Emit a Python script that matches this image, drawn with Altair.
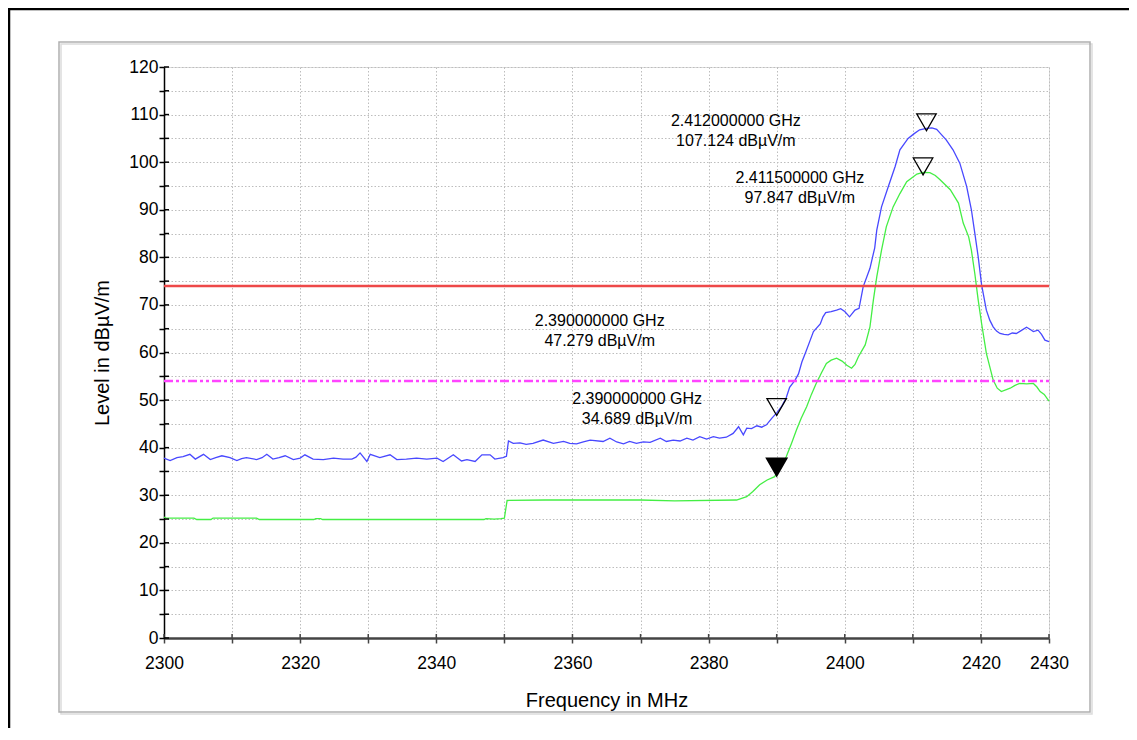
import altair as alt
import pandas as pd

# ---------------- data ----------------
blue_f = [2300.0, 2300.9, 2301.9, 2302.8, 2303.8, 2304.6, 2305.8, 2306.8, 2307.6, 2308.5,
          2309.7, 2310.7, 2311.4, 2312.1, 2313.6, 2314.4, 2315.1, 2316.0, 2316.9, 2317.8,
          2319.0, 2320.0, 2320.7, 2321.9, 2323.4, 2324.9, 2326.3, 2327.6, 2328.2, 2328.8,
          2329.8, 2330.3, 2331.7, 2333.2, 2334.2, 2335.6, 2337.1, 2338.6, 2340.1, 2341.0,
          2342.5, 2343.7, 2344.5, 2345.7, 2346.7, 2347.9, 2348.6, 2349.8, 2350.3, 2350.6,
          2351.3, 2352.3, 2353.2, 2354.2, 2355.7, 2357.2, 2358.7, 2359.6, 2360.6, 2361.6,
          2362.6, 2364.5, 2365.5, 2366.5, 2367.5, 2368.4, 2369.4, 2370.4, 2371.4, 2372.9,
          2373.8, 2374.8, 2375.8, 2376.8, 2377.7, 2378.7, 2379.7, 2380.7, 2381.6, 2382.6,
          2383.6, 2384.4, 2385.1, 2385.6, 2386.3, 2387.1, 2387.8, 2388.5, 2389.3, 2390.0,
          2390.7, 2391.4, 2391.9, 2392.7, 2393.2, 2393.7, 2394.3, 2394.9, 2395.4, 2396.4,
          2396.8, 2397.2, 2398.0, 2398.8, 2399.4, 2400.0, 2400.7, 2401.5, 2402.1, 2402.7,
          2403.7, 2404.4, 2404.7, 2405.4, 2406.4, 2407.4, 2408.1, 2409.3, 2410.2, 2411.0,
          2412.0, 2412.8, 2413.5, 2414.2, 2414.9, 2415.9, 2416.9, 2417.9, 2418.6, 2419.1,
          2419.6, 2420.1, 2420.8, 2421.3, 2421.8, 2422.3, 2422.8, 2423.4, 2424.0, 2424.6,
          2425.2, 2425.9, 2426.7, 2427.2, 2427.7, 2428.4, 2428.9, 2429.4, 2430.0]
blue_l = [37.8, 37.3, 37.9, 38.1, 38.6, 37.6, 38.6, 37.5, 37.9, 38.3,
          37.9, 37.3, 37.7, 37.9, 37.5, 37.9, 38.6, 37.6, 37.9, 38.3,
          37.5, 37.8, 38.5, 37.6, 37.5, 37.8, 37.6, 37.6, 38.0, 38.9,
          37.1, 38.6, 37.9, 38.5, 37.5, 37.6, 37.8, 37.6, 37.8, 37.1,
          38.5, 37.2, 37.5, 37.1, 38.5, 38.5, 37.6, 37.9, 38.2, 41.4,
          40.9, 41.0, 40.7, 40.9, 41.6, 40.9, 41.3, 40.9, 40.8, 41.2,
          41.6, 41.3, 42.0, 41.2, 40.8, 41.3, 40.9, 41.2, 41.1, 42.0,
          41.3, 41.6, 41.4, 42.0, 41.6, 42.3, 41.8, 42.3, 42.0, 42.2,
          43.0, 44.4, 42.7, 44.1, 44.0, 44.6, 44.3, 44.8, 46.2, 47.3,
          48.6, 50.5, 52.7, 54.2, 55.5, 58.0, 60.2, 62.5, 64.4, 66.0,
          67.5, 68.4, 68.6, 68.9, 69.2, 68.6, 67.5, 68.9, 69.3, 73.8,
          77.7, 82.0, 85.7, 90.6, 94.9, 99.1, 102.6, 105.0, 106.0, 106.8,
          107.1, 107.2, 106.9, 105.8, 104.7, 102.6, 99.8, 94.9, 90.0, 85.1,
          80.1, 74.2, 68.9, 66.8, 65.4, 64.5, 64.0, 63.8, 63.7, 64.1,
          64.0, 64.6, 65.3, 64.9, 64.4, 64.7, 63.8, 62.6, 62.3]

green_f = [2300.0, 2300.3, 2304.4, 2304.8, 2306.9, 2307.2, 2313.6, 2314.0, 2322.0, 2322.3,
           2323.0, 2323.3, 2347.0, 2347.3, 2348.5, 2349.5, 2350.0, 2350.4, 2356.0, 2370.0,
           2375.0, 2384.1, 2385.6, 2386.5, 2387.5, 2388.6, 2389.7, 2390.0, 2390.7, 2391.4,
           2392.2, 2392.9, 2393.6, 2394.4, 2395.1, 2395.8, 2396.6, 2397.3, 2398.0, 2398.8,
           2399.6, 2400.3, 2401.0, 2401.5, 2402.0, 2403.0, 2403.7, 2404.2, 2404.7, 2405.4,
           2406.1, 2407.1, 2408.1, 2409.1, 2410.6, 2411.5, 2412.5, 2413.3, 2414.0, 2415.5,
           2416.7, 2417.4, 2418.2, 2418.6, 2419.1, 2419.6, 2420.1, 2420.8, 2421.8, 2422.4,
           2423.0, 2424.3, 2425.0, 2425.7, 2426.7, 2427.7, 2428.2, 2428.7, 2429.3, 2430.0]
green_l = [25.4, 25.2, 25.2, 24.9, 24.9, 25.2, 25.2, 24.9, 24.9, 25.1,
           25.1, 24.9, 24.9, 25.1, 25.0, 25.1, 25.2, 28.9, 29.0, 29.0,
           28.8, 29.0, 29.7, 30.8, 32.2, 33.2, 33.9, 34.7, 36.2, 38.1,
           41.0, 43.7, 46.2, 48.6, 51.2, 53.5, 55.8, 57.7, 58.4, 58.8,
           58.2, 57.3, 56.7, 57.5, 59.1, 61.6, 65.4, 71.0, 75.9, 81.5,
           86.4, 90.6, 93.4, 95.9, 97.5, 97.85, 97.8, 97.2, 96.3, 94.2,
           91.4, 87.2, 84.3, 81.5, 76.6, 71.0, 66.1, 59.8, 54.2, 52.5,
           51.8, 52.5, 53.1, 53.5, 53.4, 53.5, 52.8, 51.8, 51.2, 49.8]

marker_f = [2412.0, 2411.5, 2390.0, 2390.0]
marker_l = [107.124, 97.847, 47.279, 34.689]
marker_filled = [False, False, False, True]

label_text = ["2.412000000 GHz\n107.124 dBµV/m",
              "2.411500000 GHz\n97.847 dBµV/m",
              "2.390000000 GHz\n47.279 dBµV/m",
              "2.390000000 GHz\n34.689 dBµV/m"]
label_f = [2384.0, 2393.4, 2364.0, 2369.5]
label_l = [107.5, 95.7, 65.6, 49.2]

limit_peak = [74]
limit_avg = [54]

x_ticks = [2300, 2310, 2320, 2330, 2340, 2350, 2360, 2370, 2380, 2390, 2400, 2410, 2420, 2430]
x_tick_labels = [2300, 2320, 2340, 2360, 2380, 2400, 2420, 2430]
y_ticks = [0, 5, 10, 15, 20, 25, 30, 35, 40, 45, 50, 55, 60, 65, 70, 75, 80, 85, 90, 95,
           100, 105, 110, 115, 120]
y_tick_labels = [0, 10, 20, 30, 40, 50, 60, 70, 80, 90, 100, 110, 120]

# ---------------- tables ----------------
blue = pd.DataFrame({"f": blue_f, "L": blue_l})
green = pd.DataFrame({"f": green_f, "L": green_l})
markers = pd.DataFrame({"f": marker_f, "L": marker_l, "filled": marker_filled})
labels = pd.DataFrame({"f": label_f, "L": label_l, "t": label_text})
lim_peak = pd.DataFrame({"L": limit_peak})
lim_avg = pd.DataFrame({"L": limit_avg})
xt = pd.DataFrame({"f": x_ticks})
yt = pd.DataFrame({"L": y_ticks})
one = pd.DataFrame({"a": [0]})

W, H = 885, 571
FONT = "Liberation Sans"

x_lab_expr = "indexof([%s], datum.value) >= 0 ? datum.label : ''" % ",".join(str(v) for v in x_tick_labels)
y_lab_expr = "indexof([%s], datum.value) >= 0 ? datum.label : ''" % ",".join(str(v) for v in y_tick_labels)

X = alt.X("f:Q",
          scale=alt.Scale(domain=[2300, 2430], nice=False, zero=False),
          axis=alt.Axis(values=x_ticks, format="d", labelExpr=x_lab_expr, labelOverlap=False,
                        labelFlush=False, grid=True, gridDash=[1.5, 2], gridColor="#bdbdbd",
                        gridWidth=1, domainColor="#444444", domainWidth=2.5,
                        tickColor="#444444", tickWidth=1.5, tickSize=5,
                        labelFontSize=17.5, labelColor="black", labelPadding=11,
                        title="Frequency in MHz", titleFontSize=20, titleFontWeight="normal",
                        titleColor="black", titleY=68, titleBaseline="alphabetic"))
Y = alt.Y("L:Q",
          scale=alt.Scale(domain=[0, 120], nice=False, zero=False),
          axis=alt.Axis(values=y_ticks, format="d", labelExpr=y_lab_expr, labelOverlap=False,
                        labelFlush=False, grid=True, gridDash=[1.5, 2], gridColor="#bdbdbd",
                        gridWidth=1, domainColor="black", domainWidth=1.5,
                        tickColor="black", tickWidth=1.5, tickSize=5,
                        labelFontSize=17.5, labelColor="black", labelPadding=1,
                        labelBaseline="middle",
                        title="Level in dBµV/m", titleFontSize=20, titleFontWeight="normal",
                        titleColor="black", titleAngle=-90, titleX=-56, titleY=H / 2,
                        titleBaseline="alphabetic", titleAlign="center"))

# frames: outer black frame (only left and top edges are inside the picture)
outer_top = alt.Chart(one).mark_rule(color="black", strokeWidth=2.5).encode(
    x=alt.value(-156), x2=alt.value(1000), y=alt.value(-58))
outer_left = alt.Chart(one).mark_rule(color="black", strokeWidth=2.5).encode(
    x=alt.value(-155), y=alt.value(-59), y2=alt.value(700))
inner = alt.Chart(one).mark_rect(fill="transparent", stroke="#b0b0b0", strokeWidth=1.5).encode(
    x=alt.value(-105), x2=alt.value(926), y=alt.value(-25), y2=alt.value(645))
shadow = alt.Chart(one).mark_rect(fill="transparent", stroke="#dcdcdc", strokeWidth=1.5).encode(
    x=alt.value(-103), x2=alt.value(928), y=alt.value(-23), y2=alt.value(647))

blue_line = alt.Chart(blue).mark_line(color="#4848ff", strokeWidth=1.3).encode(x=X, y=Y)
green_line = alt.Chart(green).mark_line(color="#44ee44", strokeWidth=1.3).encode(x=X, y=Y)

red_rule = alt.Chart(lim_peak).mark_rule(color="#ee4848", strokeWidth=2.5).encode(
    y=Y, x=alt.value(0), x2=alt.value(W))
mag_rule = alt.Chart(lim_avg).mark_rule(color="#ff44ff", strokeWidth=2.5,
                                        strokeDash=[9, 3, 3, 3, 3, 3]).encode(
    y=Y, x=alt.value(0), x2=alt.value(W))

# inward halves of the crossing ticks
x_in = alt.Chart(xt).mark_rule(color="#444444", strokeWidth=1.5).encode(
    x=X, y=alt.value(H), y2=alt.value(H - 4))
y_in = alt.Chart(yt).mark_rule(color="black", strokeWidth=1.5).encode(
    y=Y, x=alt.value(0), x2=alt.value(5))

open_m = alt.Chart(markers).transform_filter("!datum.filled").mark_point(
    shape="triangle-down", size=380, filled=False, stroke="black", strokeWidth=1.3,
    opacity=1, yOffset=-6).encode(x=X, y=Y)
fill_m = alt.Chart(markers).transform_filter("datum.filled").mark_point(
    shape="triangle-down", size=380, filled=True, fill="black", stroke="black",
    opacity=1, yOffset=-6).encode(x=X, y=Y)

texts = alt.Chart(labels).mark_text(lineBreak="\n", align="center", baseline="alphabetic",
                                    fontSize=16, lineHeight=20, color="black", font=FONT).encode(
    x=X, y=Y, text="t:N")

chart = alt.layer(outer_top, outer_left, shadow, inner, blue_line, green_line, red_rule, mag_rule,
                  x_in, y_in, open_m, fill_m, texts).properties(
    width=W, height=H,
    padding={"left": 156, "top": 59, "right": 80, "bottom": 90},
    autosize=alt.AutoSizeParams(type="none"),
    background="white",
).configure_view(strokeWidth=0).configure(font=FONT)

chart.save("out.html", embed_options={"renderer": "svg", "actions": False})
